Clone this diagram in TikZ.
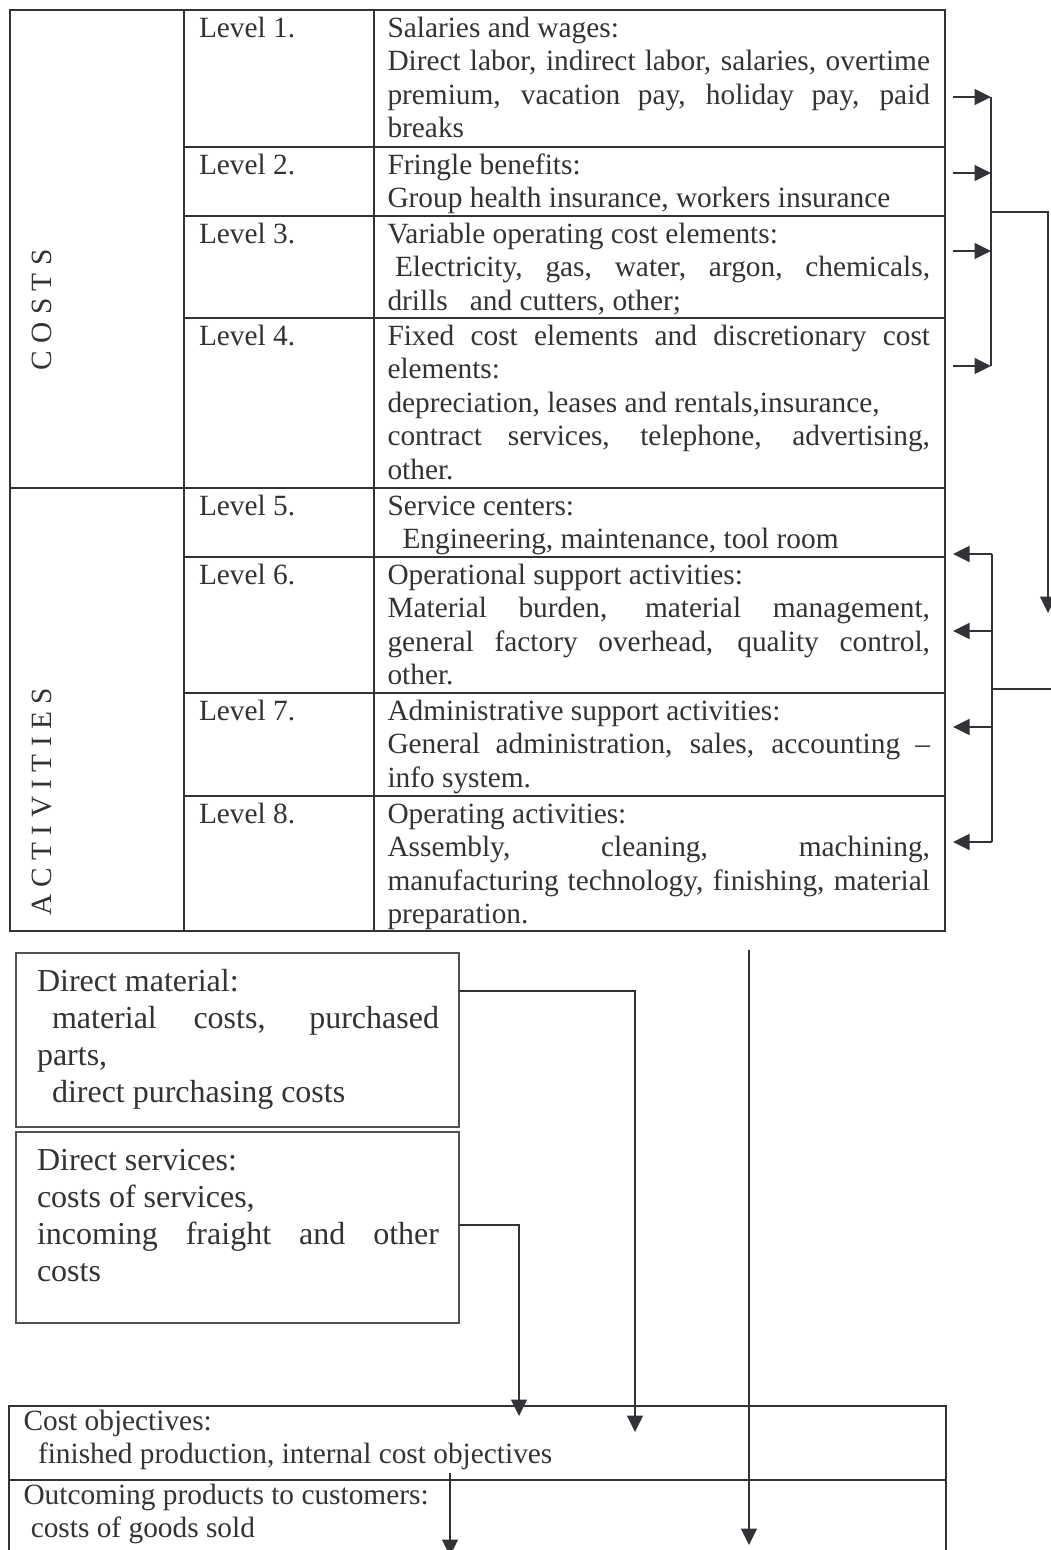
\documentclass[tikz,border=0pt]{standalone}
\usepackage{fontspec}
\setmainfont{Liberation Serif}
\usetikzlibrary{arrows.meta, positioning}

\definecolor{ink}{RGB}{50,50,55}
\setlength{\parindent}{0pt}
\newcommand{\tablefont}{\fontsize{11.74}{13.4}\selectfont\tolerance=10000\hyphenpenalty=10000}
\newcommand{\boxfont}{\fontsize{12.8}{14.8}\selectfont\tolerance=10000\hyphenpenalty=10000}

\begin{document}
\begin{tikzpicture}[x=0.4pt, y=-0.4pt,
    rowcell/.style={draw=ink, line width=0.8pt, anchor=north west, outer sep=0pt, inner sep=0pt},
    sidecell/.style={rowcell, minimum width=69.6pt},
    lvlcell/.style={rowcell, minimum width=76pt},
    desccell/.style={rowcell, minimum width=228.4pt},
    lvltext/.style={anchor=north west, outer sep=0pt, inner xsep=6pt, inner ysep=1.6pt, text=ink, font=\tablefont, execute at begin node=\strut},
    desctext/.style={lvltext, inner xsep=5.4pt, text width=217pt, align=justify},
    sidetext/.style={text=ink, font=\tablefont, rotate=90, inner sep=0pt},
    srcbox/.style={draw=ink!85, line width=0.5pt, anchor=north west, outer sep=0pt, inner sep=0pt, minimum width=177.2pt},
    srctext/.style={anchor=north west, outer sep=0pt, inner xsep=8.4pt, inner ysep=5.2pt, text width=160.8pt, align=justify, text=ink, font=\boxfont, execute at begin node=\strut},
    flow/.style={draw=ink, line width=0.6pt, -{Triangle[length=6.6pt, width=6.4pt]}},
    link/.style={draw=ink, line width=0.6pt}
]
\useasboundingbox[fill=white] (0,0) rectangle (1051,1550);
\clip (0,0) rectangle (1051,1550);

% Side column - COSTS / ACTIVITIES
\node[sidecell, minimum height=191.2pt] (costcol) at (10,10) {};
\node[sidecell, minimum height=177.2pt, below=0pt of costcol] (actcol) {};
\node[sidetext] (costlbl) at (42,310) {C O S T S};
\node[sidetext] (actlbl) at (42,802) {A C T I V I T I E S};

% Level cells, stacked from the top
\node[lvlcell, minimum height=54.8pt] (lv1) at (184,10) {};
\node[lvlcell, minimum height=27.6pt, below=0pt of lv1] (lv2) {};
\node[lvlcell, minimum height=40.8pt, below=0pt of lv2] (lv3) {};
\node[lvlcell, minimum height=68pt, below=0pt of lv3] (lv4) {};
\node[lvlcell, minimum height=27.6pt, below=0pt of lv4] (lv5) {};
\node[lvlcell, minimum height=54.4pt, below=0pt of lv5] (lv6) {};
\node[lvlcell, minimum height=41.2pt, below=0pt of lv6] (lv7) {};
\node[lvlcell, minimum height=54pt, below=0pt of lv7] (lv8) {};

% Description cells, right of each level
\node[desccell, minimum height=54.8pt, right=0pt of lv1] (ds1) {};
\node[desccell, minimum height=27.6pt, right=0pt of lv2] (ds2) {};
\node[desccell, minimum height=40.8pt, right=0pt of lv3] (ds3) {};
\node[desccell, minimum height=68pt, right=0pt of lv4] (ds4) {};
\node[desccell, minimum height=27.6pt, right=0pt of lv5] (ds5) {};
\node[desccell, minimum height=54.4pt, right=0pt of lv6] (ds6) {};
\node[desccell, minimum height=41.2pt, right=0pt of lv7] (ds7) {};
\node[desccell, minimum height=54pt, right=0pt of lv8] (ds8) {};

% Cell texts
\node[lvltext] (lt1) at (lv1.north west) {Level 1.};
\node[lvltext] (lt2) at (lv2.north west) {Level 2.};
\node[lvltext] (lt3) at (lv3.north west) {Level 3.};
\node[lvltext] (lt4) at (lv4.north west) {Level 4.};
\node[lvltext] (lt5) at (lv5.north west) {Level 5.};
\node[lvltext] (lt6) at (lv6.north west) {Level 6.};
\node[lvltext] (lt7) at (lv7.north west) {Level 7.};
\node[lvltext] (lt8) at (lv8.north west) {Level 8.};

\node[desctext] (dt1) at (ds1.north west) {Salaries and wages:\newline Direct labor, indirect labor, salaries, overtime\linebreak premium, vacation pay, holiday pay, paid\linebreak breaks};
\node[desctext] (dt2) at (ds2.north west) {Fringle benefits:\newline Group health insurance, workers insurance};
\node[desctext] (dt3) at (ds3.north west) {Variable operating cost elements:\newline\hspace*{3pt}Electricity, gas, water, argon, chemicals,\linebreak drills\ \ \ and cutters, other;};
\node[desctext] (dt4) at (ds4.north west) {Fixed cost elements and discretionary cost\linebreak elements:\newline depreciation, leases and rentals,insurance,\newline contract services, telephone, advertising,\linebreak other.};
\node[desctext] (dt5) at (ds5.north west) {Service centers:\newline\hspace*{6pt}Engineering, maintenance, tool room};
\node[desctext] (dt6) at (ds6.north west) {Operational support activities:\newline Material burden, material management,\linebreak general factory overhead, quality control,\linebreak other.};
\node[desctext] (dt7) at (ds7.north west) {Administrative support activities:\newline General administration, sales, accounting –\linebreak info system.};
\node[desctext] (dt8) at (ds8.north west) {Operating activities:\newline Assembly, cleaning, machining,\linebreak manufacturing technology, finishing, material\linebreak preparation.};

% Cost buses on the right
\coordinate (cb1) at (991,97);
\coordinate (cb2) at (991,173);
\coordinate (cb3) at (991,251);
\coordinate (cb4) at (991,366);
\draw[flow, shorten <=3.2pt] (ds1.east |- cb1) -- (cb1);
\draw[flow, shorten <=3.2pt] (ds2.east |- cb2) -- (cb2);
\draw[flow, shorten <=3.2pt] (ds3.east |- cb3) -- (cb3);
\draw[flow, shorten <=3.2pt] (ds4.east |- cb4) -- (cb4);
\draw[link] (cb1) -- (cb4);
\coordinate (cjoin) at (991,212);
\coordinate (cturn) at (1048,212);
\coordinate (cdrop) at (1048,613);
\draw[flow] (cjoin) -- (cturn) -- (cdrop);

% Activity buses on the right
\coordinate (ab5) at (992,554);
\coordinate (ab6) at (992,631);
\coordinate (ab7) at (992,727);
\coordinate (ab8) at (992,842);
\draw[flow, shorten >=3.2pt] (ab5) -- (ds5.east |- ab5);
\draw[flow, shorten >=3.2pt] (ab6) -- (ds6.east |- ab6);
\draw[flow, shorten >=3.2pt] (ab7) -- (ds7.east |- ab7);
\draw[flow, shorten >=3.2pt] (ab8) -- (ds8.east |- ab8);
\draw[link] (ab5) -- (ab8);
\coordinate (ajoin) at (992,689);
\coordinate (aedge) at (1051,689);
\draw[link] (ajoin) -- (aedge);

% Direct material and direct services
\node[srcbox, minimum height=69.6pt] (dmat) at (16,953) {};
\node[srctext] (dmattxt) at (dmat.north west) {Direct material:\newline\hspace*{6pt}material costs, purchased\linebreak parts,\newline\hspace*{6pt}direct purchasing costs};
\node[srcbox, minimum height=76.4pt] (dsvc) at (16,1132) {};
\node[srctext] (dsvctxt) at (dsvc.north west) {Direct services:\newline costs of services,\newline incoming fraight and other\linebreak costs};

% Cost objectives and outcoming products
\node[rowcell, minimum width=374.8pt, minimum height=29.6pt] (cobj) at (9,1406) {};
\node[rowcell, minimum width=374.8pt, minimum height=40pt, below=0pt of cobj] (sold) {};
\node[lvltext, inner xsep=5.8pt, align=left] (cobjtxt) at (cobj.north west) {Cost objectives:\\\hspace*{5.8pt}finished production, internal cost objectives};
\node[lvltext, inner xsep=5.8pt, align=left] (soldtxt) at (sold.north west) {Outcoming products to customers:\\\hspace*{2.9pt}costs of goods sold};

% Lower connectors
\coordinate (mattap) at (635,991);
\coordinate (matend) at (635,1432);
\draw[flow] (dmat.east |- mattap) -- (mattap) -- (matend);
\coordinate (svctap) at (519,1225);
\coordinate (svcend) at (519,1416);
\draw[flow] (dsvc.east |- svctap) -- (svctap) -- (svcend);
\coordinate (passtop) at (749,950);
\coordinate (passend) at (749,1545);
\draw[flow] (passtop) -- (passend);
\coordinate (shiptop) at (450,1473);
\coordinate (shipend) at (450,1556);
\draw[flow] (shiptop) -- (shipend);
\end{tikzpicture}
\end{document}
